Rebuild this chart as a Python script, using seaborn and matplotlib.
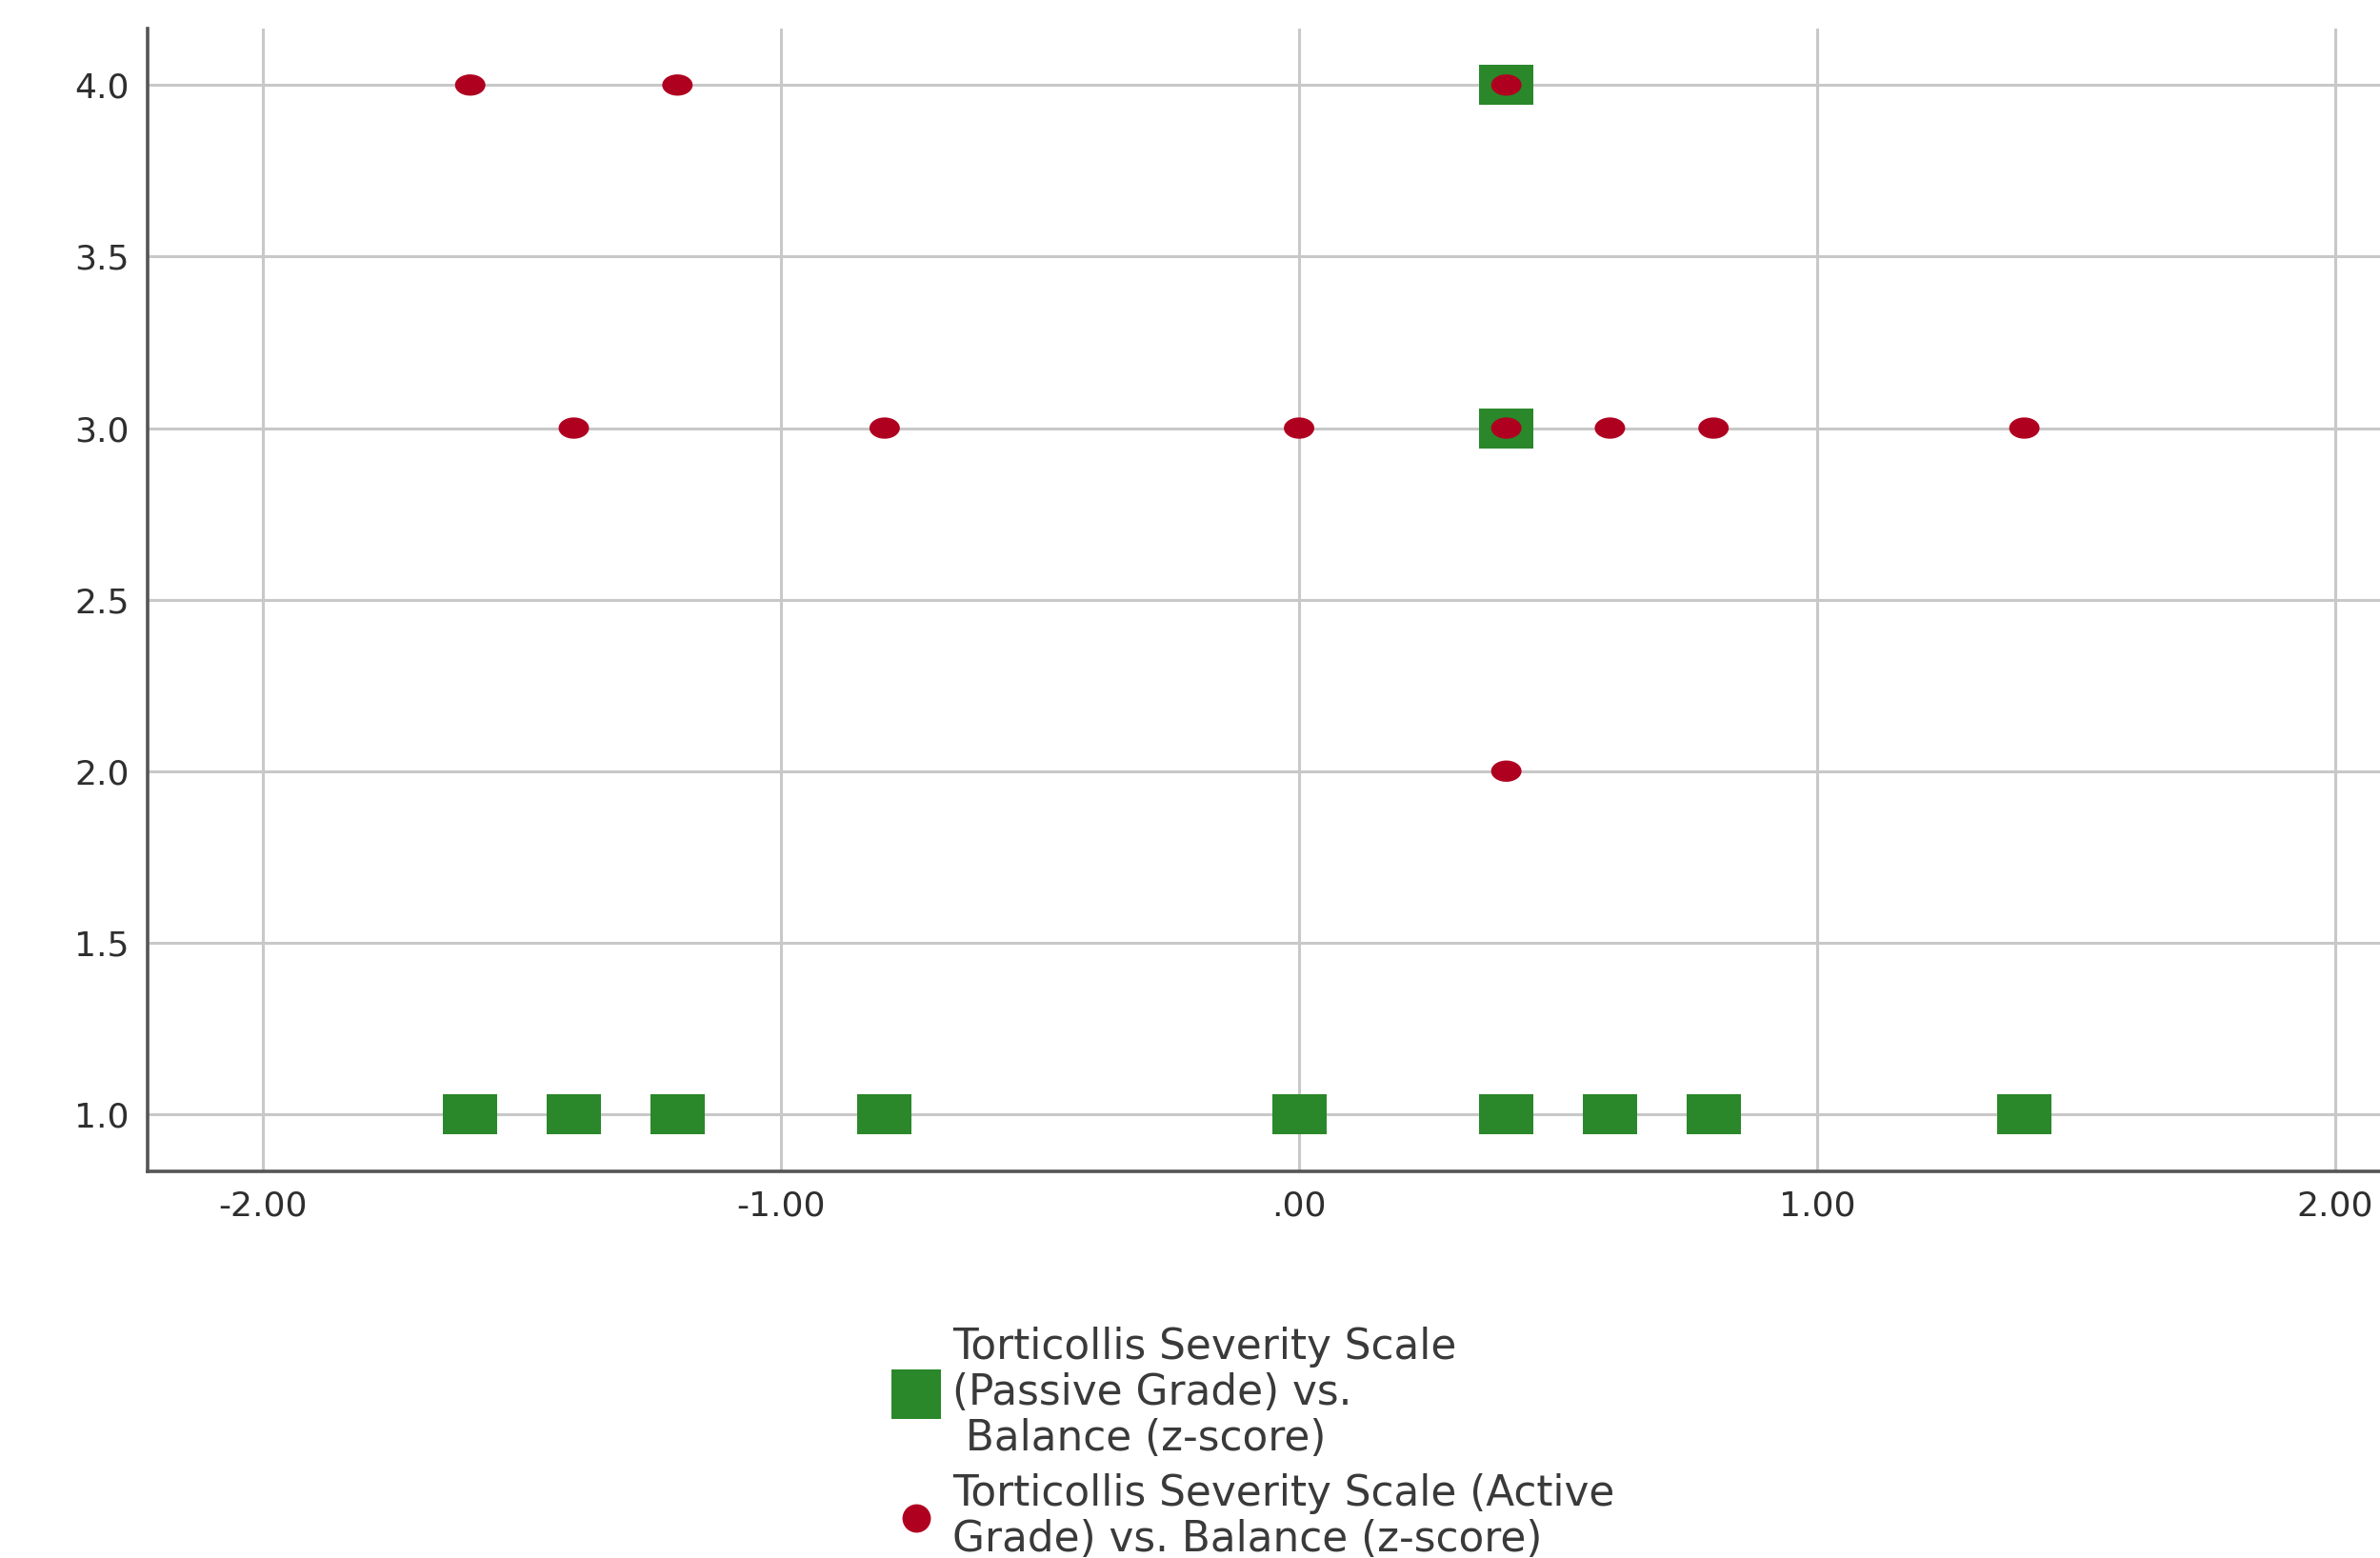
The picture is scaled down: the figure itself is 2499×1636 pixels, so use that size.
import numpy as np
import pandas as pd
import matplotlib
matplotlib.use("Agg")
import matplotlib.pyplot as plt
import seaborn as sns
from matplotlib.path import Path
from matplotlib.markers import MarkerStyle
from matplotlib.lines import Line2D

# ---- data ----
passive_label = "Torticollis Severity Scale\n(Passive Grade) vs.\n Balance (z-score)"
active_label = "Torticollis Severity Scale (Active\nGrade) vs. Balance (z-score)"

passive_x = [-1.6, -1.4, -1.2, -0.8, 0.0, 0.4, 0.6, 0.8, 1.4, 0.4, 0.4]
passive_y = [1, 1, 1, 1, 1, 1, 1, 1, 1, 3, 4]
active_x = [-1.6, -1.2, 0.4, -1.4, -0.8, 0.0, 0.4, 0.6, 0.8, 1.4, 0.4]
active_y = [4, 4, 4, 3, 3, 3, 3, 3, 3, 3, 2]

xtick_values = [-2, -1, 0, 1, 2]
xtick_labels = ["-2.00", "-1.00", ".00", "1.00", "2.00"]
ytick_values = [1.0, 1.5, 2.0, 2.5, 3.0, 3.5, 4.0]
ytick_labels = ["1.0", "1.5", "2.0", "2.5", "3.0", "3.5", "4.0"]

green = "#2a882a"
red = "#b00020"

df_p = pd.DataFrame({"x": passive_x, "y": passive_y})
df_a = pd.DataFrame({"x": active_x, "y": active_y})

sns.set_theme(style="white")
plt.rcParams["font.family"] = ["DejaVu Sans"]

W, H = 2499, 1636
fig = plt.figure(figsize=(W / 100, H / 100), dpi=100)
ax = fig.add_axes([155 / W, 1 - 1230 / H, 1 - 155 / W, (1230 - 30) / H])

# custom wide markers (reference is horizontally stretched)
rect_marker = MarkerStyle(Path([(-1, -0.737), (1, -0.737), (1, 0.737), (-1, 0.737), (-1, -0.737)],
                               [Path.MOVETO, Path.LINETO, Path.LINETO, Path.LINETO, Path.CLOSEPOLY]))
t = np.linspace(0, 2 * np.pi, 60)
ell_marker = MarkerStyle(Path(np.column_stack([np.cos(t), 0.7 * np.sin(t)]), closed=True))

sns.scatterplot(data=df_p, x="x", y="y", ax=ax, marker=rect_marker, s=41 ** 2,
                color=green, edgecolor="none", linewidth=0, legend=False, zorder=3)
sns.scatterplot(data=df_a, x="x", y="y", ax=ax, marker=ell_marker, s=23 ** 2,
                color=red, edgecolor="none", linewidth=0, legend=False, zorder=4)

ax.set_xlim(-2.2227, 2.0865)
ax.set_ylim(0.8334, 4.1646)
ax.set_xticks(xtick_values)
ax.set_xticklabels(xtick_labels)
ax.set_yticks(ytick_values)
ax.set_yticklabels(ytick_labels)
ax.set_xlabel("")
ax.set_ylabel("")

ax.grid(True, color="#c8c8c8", linewidth=2.2)
ax.set_axisbelow(True)
for side in ["top", "right"]:
    ax.spines[side].set_visible(False)
for side in ["left", "bottom"]:
    ax.spines[side].set_color("#555555")
    ax.spines[side].set_linewidth(2.6)
ax.tick_params(axis="both", length=0, labelsize=26, labelcolor="#2e2e2e", pad=14)

handles = [
    Line2D([], [], linestyle="none", marker="s", markersize=38, color=green, markeredgewidth=0),
    Line2D([], [], linestyle="none", marker="o", markersize=21.5, color=red, markeredgewidth=0),
]
leg = fig.legend(handles, [passive_label, active_label], loc="upper left",
                 bbox_to_anchor=(937 / W, 1 - 1393 / H), frameon=False,
                 fontsize=31.5, handlelength=1.14, handletextpad=0.3,
                 borderpad=0, borderaxespad=0, labelspacing=0.33)
for txt in leg.get_texts():
    txt.set_color("#3a3a3a")
    txt.set_linespacing(1.15)

fig.savefig("out.png", dpi=100, facecolor="white")
